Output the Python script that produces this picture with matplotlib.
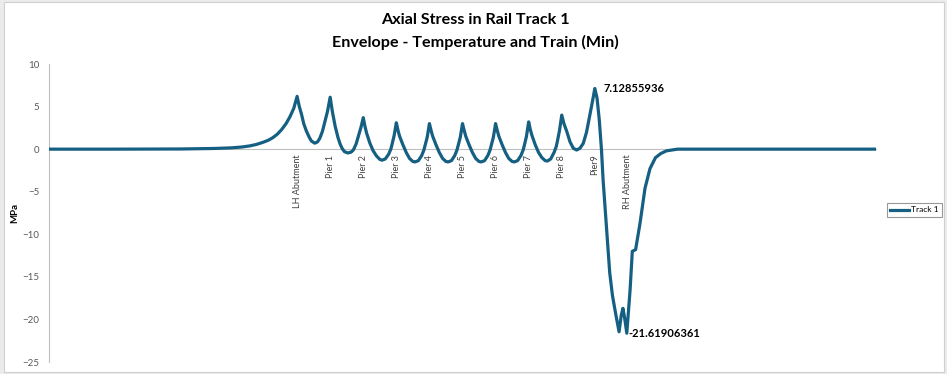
import numpy as np
import matplotlib.pyplot as plt
from matplotlib.patches import Rectangle

plt.rcParams["font.family"] = ["Lato", "DejaVu Sans"]

# chainage along the track (m) and axial stress (MPa)
chainage = [0, 60, 120, 150, 165, 175, 182, 188, 194, 199, 203, 207, 211, 215, 218.5, 222, 225,
            227, 229, 231, 233.5, 236, 238, 241, 243.5, 245.5, 248, 250, 252.5, 255,
            257, 259.5, 262, 264, 266, 268, 271, 274, 276, 278.5, 280.5, 283, 285,
            286.5, 288, 291, 294, 297, 300, 302, 305, 308, 310, 311, 313, 315,
            316.5, 318, 321, 324, 327, 330, 332, 335, 338, 340, 341, 343, 345,
            346.5, 348, 351, 354, 357, 360, 362, 365, 368, 370, 371, 373, 375,
            376.5, 378, 381, 384, 387, 390, 392, 395, 398, 400, 401, 403, 405,
            406.5, 408, 411, 414, 417, 420, 422, 425, 428, 430, 431, 433, 435,
            436.5, 438, 441, 444, 447, 450, 452, 455, 458, 460, 461, 463, 465,
            467, 469.5, 472.5, 475.5, 478.5, 481.5, 484.5, 487.5, 490.5, 493, 495,
            497, 499, 501, 502.5, 505.5, 508.5, 511, 514, 517, 519, 520.5, 522, 524,
            527, 529, 532, 536, 540.5, 545, 550, 555, 560, 570, 600, 750]
stress = [0.0, 0.0, 0.02, 0.08, 0.15, 0.25, 0.38, 0.55, 0.8, 1.05, 1.35, 1.75, 2.3, 3.0, 3.8, 4.8, 6.2,
          5.0, 4.1, 3.0, 2.1, 1.4, 0.95, 0.7, 0.85, 1.25, 2.1, 3.1, 4.4, 6.1,
          4.4, 2.7, 1.4, 0.6, 0.05, -0.3, -0.45, -0.35, -0.1, 0.6, 1.5, 2.6, 3.7,
          2.7, 1.9, 0.7, -0.2, -0.8, -1.2, -1.3, -1.15, -0.6, 0.0, 0.5, 1.6, 3.1,
          2.2, 1.5, 0.5, -0.4, -1.1, -1.45, -1.5, -1.35, -0.75, -0.1, 0.4, 1.4, 3.0,
          2.2, 1.5, 0.5, -0.4, -1.1, -1.45, -1.5, -1.35, -0.75, -0.1, 0.4, 1.4, 3.0,
          2.2, 1.5, 0.5, -0.4, -1.1, -1.45, -1.5, -1.35, -0.75, -0.1, 0.4, 1.4, 3.0,
          2.2, 1.5, 0.5, -0.4, -1.1, -1.45, -1.5, -1.35, -0.75, -0.1, 0.4, 1.5, 3.2,
          2.3, 1.6, 0.5, -0.4, -1.0, -1.35, -1.4, -1.15, -0.4, 0.3, 0.9, 2.2, 4.0,
          3.0, 2.1, 0.86, 0.1, -0.1, 0.1, 0.67, 2.0, 4.0, 5.7, 7.12855936,
          6.0, 3.5, 0.0, -3.6, -9.0, -14.5, -17.2, -19.4, -21.45, -19.5, -18.7, -19.8, -21.61906361,
          -16.5, -12.0, -11.8, -8.7, -4.6, -2.3, -1.0, -0.5, -0.2, 0.0, 0.0, 0.0]

support_pos = [225, 255, 285, 315, 345, 375, 405, 435, 465, 495, 525]
support_labels = ["LH Abutment", "Pier 1", "Pier 2", "Pier 3", "Pier 4", "Pier 5",
                  "Pier 6", "Pier 7", "Pier 8", "Pier9", "RH Abutment"]

fig = plt.figure(figsize=(9.47, 3.74), dpi=100, facecolor="#ebebeb")
fig.patches.append(Rectangle((4 / 947, 2 / 374), 940 / 947, 370 / 374, transform=fig.transFigure,
                             facecolor="white", edgecolor="#d0d0d0", lw=0.8, zorder=-10))
ax = fig.add_axes([49 / 947, 12 / 374, 827 / 947, 298 / 374])
ax.set_facecolor("none")
ax.set_zorder(5)

ax.plot(chainage, stress, color="#156082", lw=2.3, label="Track 1", zorder=3,
        solid_joinstyle="round")

ax.set_xlim(0, 750)
ax.set_ylim(-25, 10)
ax.set_yticks(np.arange(-25, 11, 5))
ax.set_xticks(support_pos)
ax.set_xticklabels(support_labels)

for s in ["top", "right"]:
    ax.spines[s].set_visible(False)
ax.spines["left"].set_color("#bfbfbf")
ax.spines["bottom"].set_color("#bfbfbf")
ax.spines["bottom"].set_position(("data", 0))
ax.tick_params(axis="x", length=0, pad=4, labelsize=6.5, labelcolor="#404040", labelrotation=90)
ax.tick_params(axis="y", length=0, pad=7, labelsize=7, labelcolor="#595959")
for lab in ax.get_xticklabels():
    lab.set_verticalalignment("top")
    lab.set_horizontalalignment("center")
ax.set_ylabel("MPa", fontsize=7, fontweight="bold")
ax.yaxis.set_label_coords(-0.036, 0.5)

ax.annotate("7.12855936", (495, 7.12855936), xytext=(6, 0), textcoords="offset points",
            fontsize=8, fontweight="bold", va="center", ha="left")
ax.annotate("-21.61906361", (524, -21.61906361), xytext=(1, 0), textcoords="offset points",
            fontsize=8, fontweight="bold", va="center", ha="left")

fig.text(0.5016, 0.915, "Axial Stress in Rail Track 1\nEnvelope - Temperature and Train (Min)",
         ha="center", va="center", fontsize=11.6, fontweight="bold", linespacing=1.65)

leg = fig.legend(loc="center", bbox_to_anchor=(914.5 / 947, 1 - 210 / 374), fontsize=6,
                 frameon=True, fancybox=False, handlelength=2.2, borderpad=0.4,
                 handletextpad=0.3, borderaxespad=0)
leg.get_frame().set_edgecolor("#7f7f7f")
leg.get_frame().set_linewidth(0.8)

fig.savefig("out.png", dpi=100, facecolor=fig.get_facecolor())
